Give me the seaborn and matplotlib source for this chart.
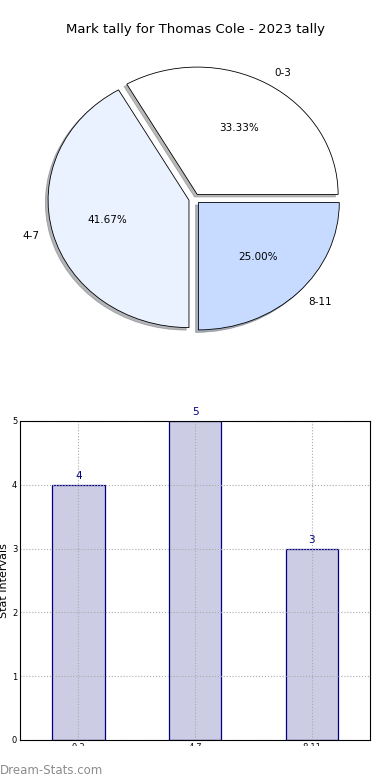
import matplotlib
matplotlib.use("Agg")
import matplotlib.pyplot as plt
from matplotlib.patches import Rectangle
import seaborn as sns
import pandas as pd

# --- data ---
categories = ["0-3", "4-7", "8-11"]
counts = [4, 5, 3]
slice_colors = ["#FFFFFF", "#EBF2FF", "#C6DBFF"]
title = "Mark tally for Thomas Cole - 2023 tally"

sns.set_style("white")
plt.rcParams['font.family'] = ['DejaVu Sans']
plt.rcParams['text.color'] = 'black'
plt.rcParams['xtick.color'] = 'black'
plt.rcParams['ytick.color'] = 'black'

fig = plt.figure(figsize=(3.9, 7.8), dpi=100)

# pie on top
ax_pie = fig.add_axes([0.065, 0.549, 0.867, 0.392])
wedges, texts, autotexts = ax_pie.pie(
    counts, labels=categories, colors=slice_colors, autopct="%1.2f%%",
    explode=[0.04] * len(counts), shadow=dict(ox=-0.014, oy=-0.014, shade=0.55),
    startangle=0,
    wedgeprops=dict(edgecolor="black", linewidth=0.6),
    textprops=dict(fontsize=7.5, color="black"))
ax_pie.set_aspect("auto")
ax_pie.set_xlim(-1.2, 1.2)
ax_pie.set_ylim(-1.2, 1.2)
ax_pie.axis("off")
fig.text(0.5, 1 - 30 / 780, title, ha="center", va="center", fontsize=9.5)

# bars underneath
df = pd.DataFrame({"interval": categories, "count": counts})
ax = fig.add_axes([0.0513, 0.0513, 0.8977, 0.409])
sns.barplot(data=df, x="interval", y="count", order=categories, color="#CCCCE4",
            edgecolor="#000080", linewidth=0.9, width=0.45, saturation=1, ax=ax)
ax.set_xlim(-0.5, 2.5)
ax.set_ylim(0, 5)
ax.set_yticks(range(0, 6))
ax.set_xlabel("")
ax.set_ylabel("")
ax.grid(True, linestyle=":", color="#AAAAAA", linewidth=0.8)
ax.set_axisbelow(False)
for sp in ax.spines.values():
    sp.set_color("black")
    sp.set_linewidth(0.8)
    sp.set_zorder(5)
ax.tick_params(axis="both", labelsize=6, length=2, direction="in", pad=2)
for i, v in enumerate(counts):
    ax.text(i, v + 0.06, str(v), ha="center", va="bottom", fontsize=7.5, color="#000080")
fig.text(4 / 390, 0.256, "Stat Intervals", rotation=90, ha="center", va="center", fontsize=8)

# watermark strip
fig.patches.append(Rectangle((0, 0), 1, 1 - 746 / 780, transform=fig.transFigure,
                             facecolor="white", edgecolor="none", zorder=10))
fig.text(0.0, 1 - 770 / 780, "Dream-Stats.com", ha="left", va="center", fontsize=8.5,
         color="#8C8C8C", zorder=11)

fig.savefig("out.png", dpi=100)
plt.close(fig)
